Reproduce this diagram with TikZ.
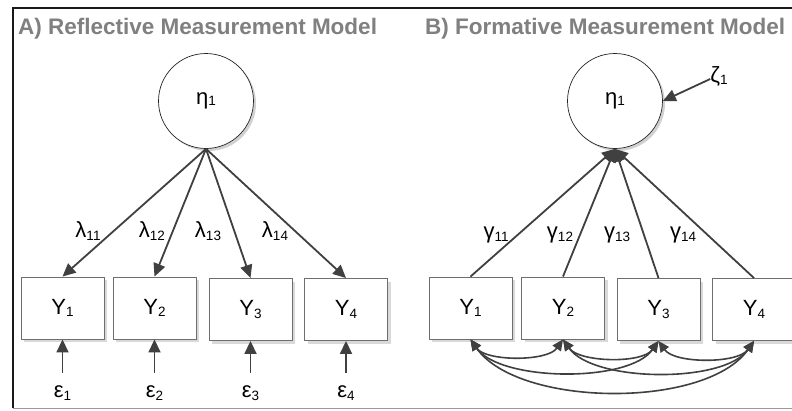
\documentclass[tikz,border=0pt]{standalone}
\usepackage{fontspec}
\setmainfont{Liberation Sans}
\usetikzlibrary{arrows.meta,shadows}
\definecolor{linec}{HTML}{404040}
\definecolor{titlec}{HTML}{808080}
\definecolor{boxc}{HTML}{6E6E6E}
\newcommand\sbs[1]{\raisebox{-2.5pt}{\fontsize{13.5}{14}\selectfont #1}}
\newcommand\sbn[1]{\raisebox{-0.5pt}{\fontsize{13.5}{14}\selectfont #1}}
\begin{document}
\begin{tikzpicture}[x=1pt,y=-1pt,
  every node/.style={font=\fontsize{22}{26}\selectfont},
  paneltitle/.style={font=\fontsize{22.5}{26}\selectfont\bfseries, text=titlec, anchor=base west, inner sep=0pt},
  latent/.style={circle, draw=black!85, line width=0.7pt, fill=white, minimum size=95pt, inner sep=0pt,
    drop shadow={shadow xshift=2.5pt, shadow yshift=-2.5pt, fill=black!18, opacity=1}},
  obs/.style={rectangle, draw=boxc, line width=0.9pt, fill=white, minimum width=83pt, minimum height=62pt, inner sep=0pt,
    drop shadow={shadow xshift=3pt, shadow yshift=-3pt, fill=black!15, opacity=1}},
  lab/.style={inner sep=0pt},
  errn/.style={inner sep=0pt, minimum height=40pt},
  arr/.style={-{Triangle[length=13pt,width=12pt]}, draw=linec, line width=1.8pt},
  cov/.style={{Triangle[length=11pt,width=10pt]}-{Triangle[length=11pt,width=10pt]}, draw=linec, line width=1.6pt},
]
\clip (0,0) rectangle (792,410);
\fill[white] (0,0) rectangle (792,410);
% frame
\draw[black!90, line width=1.5pt] (792,8) -- (13,8) -- (13,408);
\draw[black!40, line width=1pt] (13,408) -- (792,408);

% titles
\node[paneltitle] (ta) at (18,34.3) {A) Reflective Measurement Model};
\node[paneltitle] (tb) at (425,34.3) {B) Formative Measurement Model};

% ---------- A ----------
\node[latent] (etaA) at (206,101) {η\sbn{1}};
\node[obs] (a1) at (62.5,308) {Y\sbs{1}};
\node[obs] (a2) at (154.5,308) {Y\sbs{2}};
\node[obs] (a3) at (250.5,309.5) {Y\sbs{3}};
\node[obs] (a4) at (346,309.5) {Y\sbs{4}};
\foreach \i in {1,...,4} \draw[arr] (etaA.south) -- (a\i.north);
\node[lab] (l1) at (88,231) {λ\sbs{11}};
\node[lab] (l2) at (152,231) {λ\sbs{12}};
\node[lab] (l3) at (208,231) {λ\sbs{13}};
\node[lab] (l4) at (275,231) {λ\sbs{14}};
\node[errn] (e1) at (62.5,393) {ε\sbs{1}};
\node[errn] (e2) at (154.5,393) {ε\sbs{2}};
\node[errn] (e3) at (250.5,393) {ε\sbs{3}};
\node[errn] (e4) at (346,393) {ε\sbs{4}};
\foreach \i in {1,...,4} \draw[arr] (e\i.north) -- (a\i.south);

% ---------- B ----------
\node[latent] (etaB) at (615,101) {η\sbn{1}};
\node[obs] (b1) at (470.5,308) {Y\sbs{1}};
\node[obs] (b2) at (563,308) {Y\sbs{2}};
\node[obs] (b3) at (658.5,309.5) {Y\sbs{3}};
\node[obs] (b4) at (754,309.5) {Y\sbs{4}};
\foreach \i in {1,...,4} \draw[arr] (b\i.north) -- (etaB.south);
\node[lab] (g1) at (496,235) {γ\sbs{11}};
\node[lab] (g2) at (560,235) {γ\sbs{12}};
\node[lab] (g3) at (617,235) {γ\sbs{13}};
\node[lab] (g4) at (683,235) {γ\sbs{14}};
\node[lab] (zeta) at (719,76) {ζ\sbs{1}};
\draw[arr] ([yshift=-3pt]zeta.west) -- (etaB.east);

% covariances
\draw[cov] (b1.south) to[out=-55,in=-125,looseness=0.75] (b2.south);
\draw[cov] (b2.south) to[out=-55,in=-125,looseness=0.75] (b3.south);
\draw[cov] (b3.south) to[out=-55,in=-125,looseness=0.75] (b4.south);
\draw[cov] (b1.south) to[out=-55,in=-125,looseness=0.7] (b3.south);
\draw[cov] (b2.south) to[out=-55,in=-125,looseness=0.7] (b4.south);
\draw[cov] (b1.south) to[out=-55,in=-125,looseness=0.75] (b4.south);
\end{tikzpicture}
\end{document}
